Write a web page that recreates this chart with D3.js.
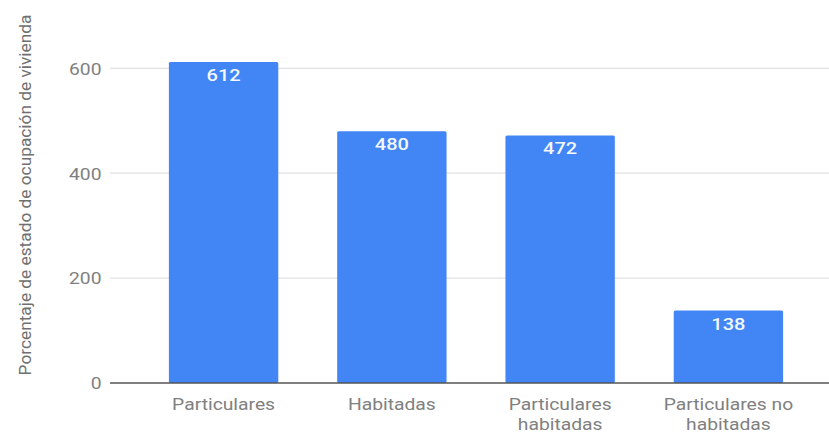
<!DOCTYPE html>
<html>
<head>
<meta charset="utf-8">
<script src="https://cdn.jsdelivr.net/npm/d3@7"></script>
<style>
  html, body { margin: 0; padding: 0; background: #fff; }
  svg { display: block; }
  text { font-family: Roboto, "Noto Sans", Arial, sans-serif; }
</style>
</head>
<body>
<svg id="chart" width="829" height="433"></svg>
<script>
const categories = ["Particulares", "Habitadas", "Particulares habitadas", "Particulares no habitadas"];
const values = [612, 480, 472, 138];
const yTicks = [0, 200, 400, 600];
const yTitle = "Porcentaje de estado de ocupación de vivienda";

const W = 829, H = 433;
const SX = 1.17;          // horizontal stretch of the reference text
const FS = 16.5;

const svg = d3.select("#chart");

const x = d3.scaleBand()
  .domain(categories)
  .range([110, 842])
  .paddingInner(0.35)
  .paddingOuter(0.35);

const y = d3.scaleLinear()
  .domain([0, 600])
  .range([383, 68.3]);

// gridlines
svg.append("g")
  .selectAll("line")
  .data(yTicks.filter(d => d !== 0))
  .join("line")
  .attr("x1", 110).attr("x2", W)
  .attr("y1", d => y(d)).attr("y2", d => y(d))
  .attr("stroke", "#e2e2e2")
  .attr("stroke-width", 1.2);

// y tick labels
svg.append("g")
  .selectAll("text")
  .data(yTicks)
  .join("text")
  .attr("transform", d => `translate(101.5,${y(d) + 6.3}) scale(${SX},1)`)
  .attr("text-anchor", "end")
  .attr("font-size", FS)
  .attr("fill", "#808080")
  .text(d => d3.format("d")(d));

// bars
svg.append("g")
  .selectAll("rect")
  .data(values)
  .join("rect")
  .attr("x", (d, i) => x(categories[i]))
  .attr("width", x.bandwidth())
  .attr("y", d => y(d))
  .attr("height", d => y(0) - y(d))
  .attr("rx", 1.5)
  .attr("fill", "#4285f4");

// baseline
svg.append("line")
  .attr("x1", 110).attr("x2", W)
  .attr("y1", y(0)).attr("y2", y(0))
  .attr("stroke", "#555")
  .attr("stroke-width", 1.3);

// data labels
svg.append("g")
  .selectAll("text")
  .data(values)
  .join("text")
  .attr("transform", (d, i) => `translate(${x(categories[i]) + x.bandwidth() / 2},${y(d) + 19}) scale(1.25,1)`)
  .attr("text-anchor", "middle")
  .attr("font-size", 16)
  .attr("font-weight", 500)
  .attr("fill", "#f4f8ff")
  .text(d => d);

// category labels with wrapping
const wrapWidth = x.step() * 0.95;
const measurer = svg.append("text").attr("font-size", FS).attr("visibility", "hidden");
function measure(s) { measurer.text(s); return measurer.node().getComputedTextLength() * SX; }
function wrap(label) {
  const words = label.split(" ");
  const lines = [];
  let cur = "";
  words.forEach(w => {
    const t = cur ? cur + " " + w : w;
    if (cur && measure(t) > wrapWidth) { lines.push(cur); cur = w; }
    else cur = t;
  });
  if (cur) lines.push(cur);
  return lines;
}
const catG = svg.append("g");
categories.forEach(c => {
  const lines = wrap(c);
  lines.forEach((ln, j) => {
    catG.append("text")
      .attr("transform", `translate(${x(c) + x.bandwidth() / 2},${409.5 + j * 20.5}) scale(${SX},1)`)
      .attr("text-anchor", "middle")
      .attr("font-size", FS)
      .attr("fill", "#808080")
      .text(ln);
  });
});
measurer.remove();

// y axis title
svg.append("text")
  .attr("transform", `translate(31,195) rotate(-90)`)
  .attr("text-anchor", "middle")
  .attr("font-size", 17.3)
  .attr("fill", "#707070")
  .text(yTitle);
</script>
</body>
</html>
